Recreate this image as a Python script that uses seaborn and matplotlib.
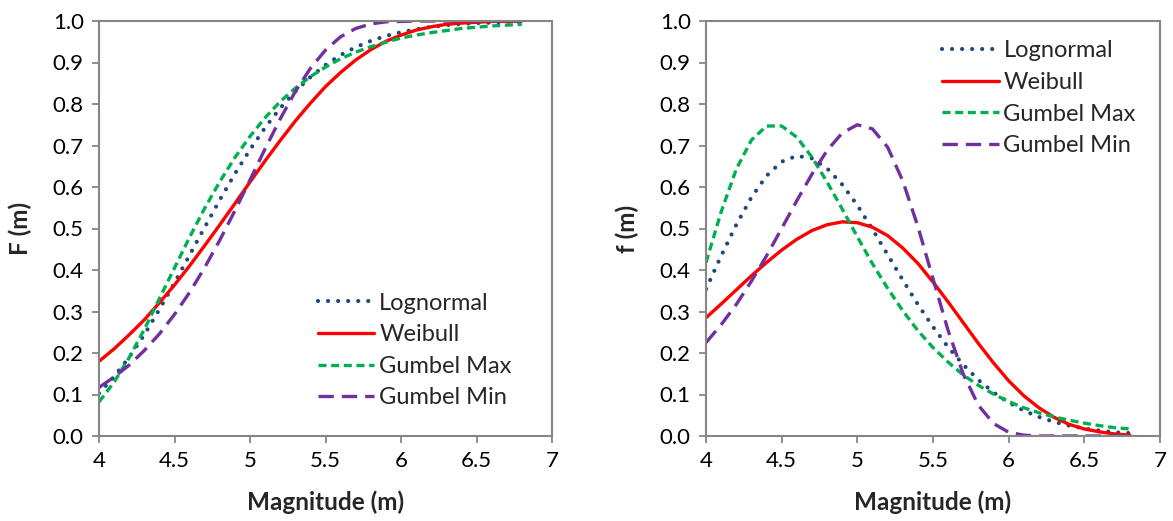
import matplotlib
matplotlib.use("Agg")
import matplotlib.pyplot as plt
import seaborn as sns
import pandas as pd

magnitude = [4.0, 4.1, 4.2, 4.3, 4.4, 4.5, 4.6, 4.7, 4.8, 4.9, 5.0, 5.1, 5.2, 5.3, 5.4,
             5.5, 5.6, 5.7, 5.8, 5.9, 6.0, 6.1, 6.2, 6.3, 6.4, 6.5, 6.6, 6.7, 6.8]

series_names = ["Lognormal", "Weibull", "Gumbel Max", "Gumbel Min"]

cdf_lognormal = [0.103, 0.143, 0.190, 0.244, 0.305, 0.369, 0.436, 0.503, 0.569, 0.632, 0.690,
                 0.743, 0.790, 0.830, 0.865, 0.894, 0.918, 0.937, 0.952, 0.964, 0.973, 0.980,
                 0.986, 0.990, 0.993, 0.995, 0.996, 0.998, 0.998]
cdf_weibull = [0.180, 0.210, 0.244, 0.280, 0.321, 0.364, 0.410, 0.459, 0.509, 0.560, 0.612,
               0.663, 0.712, 0.759, 0.802, 0.842, 0.876, 0.906, 0.931, 0.951, 0.966, 0.978,
               0.986, 0.992, 0.995, 0.997, 0.999, 0.999, 1.000]
cdf_gumbel_max = [0.082, 0.130, 0.189, 0.257, 0.331, 0.405, 0.479, 0.549, 0.613, 0.671, 0.722,
                  0.767, 0.806, 0.838, 0.866, 0.889, 0.909, 0.925, 0.938, 0.949, 0.959, 0.966,
                  0.972, 0.977, 0.982, 0.985, 0.988, 0.990, 0.992]
cdf_gumbel_min = [0.117, 0.142, 0.171, 0.206, 0.246, 0.293, 0.346, 0.406, 0.472, 0.543, 0.617,
                  0.692, 0.764, 0.830, 0.886, 0.930, 0.962, 0.982, 0.993, 0.998, 0.999, 1.000,
                  1.000, 1.000, 1.000, 1.000, 1.000, 1.000, 1.000]

pdf_lognormal = [0.354, 0.434, 0.509, 0.575, 0.627, 0.661, 0.675, 0.669, 0.645, 0.606, 0.556,
                 0.498, 0.437, 0.376, 0.317, 0.263, 0.214, 0.172, 0.135, 0.105, 0.081, 0.061,
                 0.046, 0.034, 0.025, 0.018, 0.013, 0.009, 0.007]
pdf_weibull = [0.285, 0.318, 0.352, 0.386, 0.418, 0.448, 0.474, 0.495, 0.509, 0.516, 0.514,
               0.503, 0.483, 0.453, 0.416, 0.371, 0.323, 0.273, 0.223, 0.176, 0.133, 0.097,
               0.068, 0.045, 0.028, 0.017, 0.010, 0.005, 0.002]
pdf_gumbel_max = [0.418, 0.540, 0.643, 0.713, 0.747, 0.747, 0.720, 0.672, 0.612, 0.547, 0.480,
                  0.415, 0.356, 0.302, 0.254, 0.213, 0.178, 0.147, 0.122, 0.101, 0.083, 0.068,
                  0.056, 0.046, 0.038, 0.031, 0.025, 0.020, 0.017]
pdf_gumbel_min = [0.225, 0.268, 0.317, 0.373, 0.434, 0.500, 0.567, 0.631, 0.688, 0.730, 0.750,
                  0.740, 0.696, 0.615, 0.505, 0.379, 0.254, 0.149, 0.074, 0.030, 0.009, 0.002,
                  0.000, 0.000, 0.000, 0.000, 0.000, 0.000, 0.000]

x_ticks = [4, 4.5, 5, 5.5, 6, 6.5, 7]
x_tick_labels = ["4", "4.5", "5", "5.5", "6", "6.5", "7"]
y_ticks = [0.0, 0.1, 0.2, 0.3, 0.4, 0.5, 0.6, 0.7, 0.8, 0.9, 1.0]
y_tick_labels = ["0.0", "0.1", "0.2", "0.3", "0.4", "0.5", "0.6", "0.7", "0.8", "0.9", "1.0"]

sns.set_theme(style="white")
plt.rcParams["font.family"] = ["Lato", "DejaVu Sans"]

colors = {"Lognormal": "#1F497D", "Weibull": "#FF0000",
          "Gumbel Max": "#00B050", "Gumbel Min": "#7030A0"}
styles = {
    "Lognormal": dict(linestyle=(0, (0.01, 2.4)), dash_capstyle="round", linewidth=3.0),
    "Weibull": dict(linestyle="-", linewidth=2.4),
    "Gumbel Max": dict(linestyle=(0, (2.4, 1.4)), dash_capstyle="butt", linewidth=2.4),
    "Gumbel Min": dict(linestyle=(0, (4.6, 2.4)), dash_capstyle="butt", linewidth=2.4),
}

fig = plt.figure(figsize=(11.73, 5.21), dpi=100)
ax1 = fig.add_axes([99 / 1173, 1 - 436 / 521, 453 / 1173, 415 / 521])
ax2 = fig.add_axes([706 / 1173, 1 - 436 / 521, 454 / 1173, 415 / 521])

panels = [
    (ax1, [cdf_lognormal, cdf_weibull, cdf_gumbel_max, cdf_gumbel_min], "F (m)", (0.483, 0.206)),
    (ax2, [pdf_lognormal, pdf_weibull, pdf_gumbel_max, pdf_gumbel_min], "f (m)", (0.52, 0.814)),
]

gray = "#868686"
for ax, data, ylabel, anchor in panels:
    for name, vals in zip(series_names, data):
        df = pd.DataFrame({"m": magnitude, "v": vals})
        sns.lineplot(data=df, x="m", y="v", ax=ax, color=colors[name], label=name,
                     estimator=None, sort=False, **styles[name])
    ax.set_xlim(4, 7)
    ax.set_ylim(0, 1)
    ax.set_xticks(x_ticks)
    ax.set_xticklabels(x_tick_labels)
    ax.set_yticks(y_ticks)
    ax.set_yticklabels(y_tick_labels)
    ax.tick_params(axis="both", direction="out", length=5, width=1.3, color=gray,
                   labelsize=16, labelcolor="black", pad=6,
                   bottom=True, left=True)
    for sp in ax.spines.values():
        sp.set_visible(True)
        sp.set_color(gray)
        sp.set_linewidth(1.5)
    ax.set_xlabel("Magnitude (m)", fontsize=17.5, fontweight="bold", labelpad=14)
    ax.set_ylabel(ylabel, fontsize=17.5, fontweight="bold", labelpad=15)
    ax.grid(False)
    ax.legend(loc="center left", bbox_to_anchor=anchor, frameon=False, fontsize=17,
              borderpad=0, borderaxespad=0, handlelength=2.4, handletextpad=0.2,
              labelspacing=0.45)

fig.savefig("out.png", dpi=100)
